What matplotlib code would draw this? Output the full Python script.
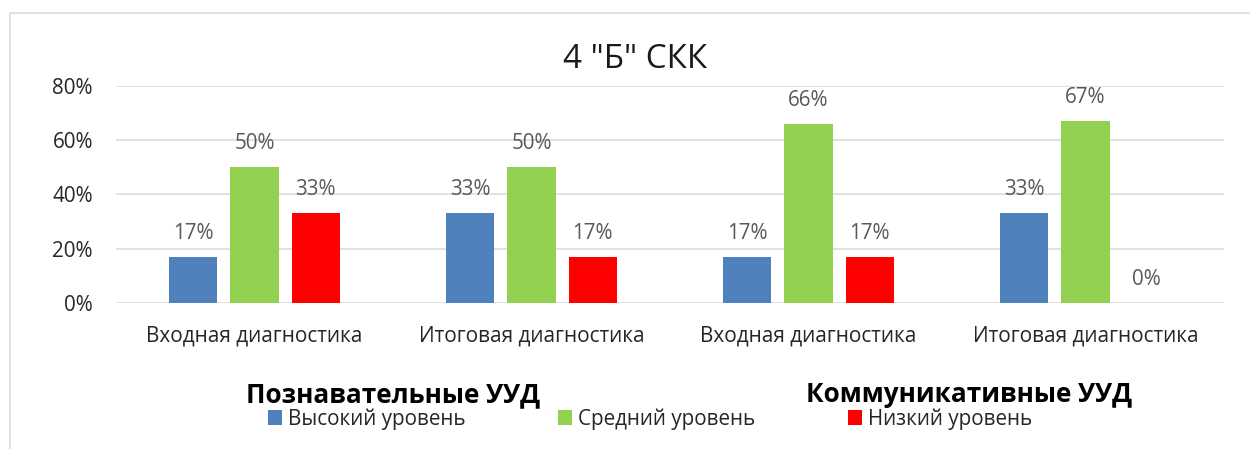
import matplotlib
matplotlib.use('Agg')
import matplotlib.pyplot as plt
from matplotlib.font_manager import FontProperties
from matplotlib.transforms import blended_transform_factory
from matplotlib.patches import Patch
from matplotlib.lines import Line2D
import numpy as np

# ---------------- data ----------------
title = '4 "Б" СКК'
categories = ['Входная диагностика', 'Итоговая диагностика',
              'Входная диагностика', 'Итоговая диагностика']
groups = ['Познавательные УУД', 'Коммуникативные УУД']
series = ['Высокий уровень', 'Средний уровень', 'Низкий уровень']
high = [17, 33, 17, 33]
mid = [50, 50, 66, 67]
low = [33, 17, 17, 0]
yticks = [0, 20, 40, 60, 80]

# ---------------- style ----------------
colors = ['#4F81BD', '#92D050', '#FF0000']
W, H, DPI = 1250, 449, 100
FONT = 'Open Sans'
plt.rcParams['font.family'] = [FONT, 'DejaVu Sans']

fig = plt.figure(figsize=(W / DPI, H / DPI), dpi=DPI)
renderer = fig.canvas.get_renderer()


def fit(text, target_px, weight='normal'):
    fp = FontProperties(family=[FONT, 'DejaVu Sans'], weight=weight, size=10)
    w, h, d = renderer.get_text_width_height_descent(text, fp, ismath=False)
    return 10.0 * target_px / w


def textw(text, size, weight='normal'):
    fp = FontProperties(family=[FONT, 'DejaVu Sans'], weight=weight, size=size)
    w, h, d = renderer.get_text_width_height_descent(text, fp, ismath=False)
    return w


tick_fs = fit('80%', 41)
cat_fs = fit('Входная диагностика', 216)
lab_fs = fit('50%', 41)
title_fs = fit(title, 144)
grp_fs = fit('Познавательные УУД', 295, 'bold')
leg_fs = fit('Высокий уровень', 177)

# plot area in pixels: x 116..1224, y 86..303
ax = fig.add_axes([116 / W, (H - 303) / H, (1224 - 116) / W, (303 - 86) / H])
ax.set_xlim(-0.5, 3.5)
ax.set_ylim(0, 80)

x = np.arange(len(categories))
step, bw = 0.2213, 0.1744
for i, (vals, col) in enumerate(zip([high, mid, low], colors)):
    xs = x + (i - 1) * step
    ax.bar(xs, vals, width=bw, color=col, zorder=2)
    for xi, v in zip(xs, vals):
        ax.annotate(f'{v}%', (xi, v), xytext=(0, 18 * 72 / DPI),
                    textcoords='offset points', ha='center', va='baseline',
                    fontsize=lab_fs, color='#595959')

ax.set_yticks(yticks)
ax.set_yticklabels([f'{t}%' for t in yticks])
ax.tick_params(axis='y', length=0, pad=23 * 72 / DPI, labelsize=tick_fs,
               labelcolor='#262626')
ax.set_xticks([])
ax.yaxis.grid(True, color='#D9D9D9', lw=1.1)
ax.set_axisbelow(True)
for s in ax.spines.values():
    s.set_visible(False)

# category labels
tr = blended_transform_factory(ax.transData, fig.transFigure)
for xi, c in zip(x, categories):
    ax.text(xi, (H - 341) / H, c, transform=tr, ha='center', va='baseline',
            fontsize=cat_fs, color='#262626')

# group labels
group_pos = [0.5, 2.58]
for gx, g in zip(group_pos, groups):
    ax.text(gx, (H - 402) / H, g, transform=tr, ha='center', va='baseline',
            fontsize=grp_fs, fontweight='bold', color='black')

# title
fig.text(635 / W, (H - 68) / H, title, ha='center', va='baseline',
         fontsize=title_fs, color='#1a1a1a')

# legend
fs_px = leg_fs * DPI / 72
handles = [Patch(facecolor=c, edgecolor='none') for c in colors]
cs_px = 558 - (268 + 14 + 6 + textw(series[0], leg_fs))
fig.legend(handles, series, loc='center left',
           bbox_to_anchor=(268 / W, (H - 419) / H), ncol=3, frameon=False,
           fontsize=leg_fs, handlelength=14 / fs_px, handleheight=14 / fs_px,
           handletextpad=6 / fs_px, columnspacing=cs_px / fs_px,
           borderpad=0, borderaxespad=0, labelcolor='#262626')

# chart border (only left and top visible in the crop)
fig.add_artist(Line2D([10 / W, 10 / W, 1.0], [0, (H - 12.5) / H, (H - 12.5) / H],
                      color='#D9D9D9', lw=1.1, transform=fig.transFigure))

fig.savefig('out.png', dpi=DPI)
